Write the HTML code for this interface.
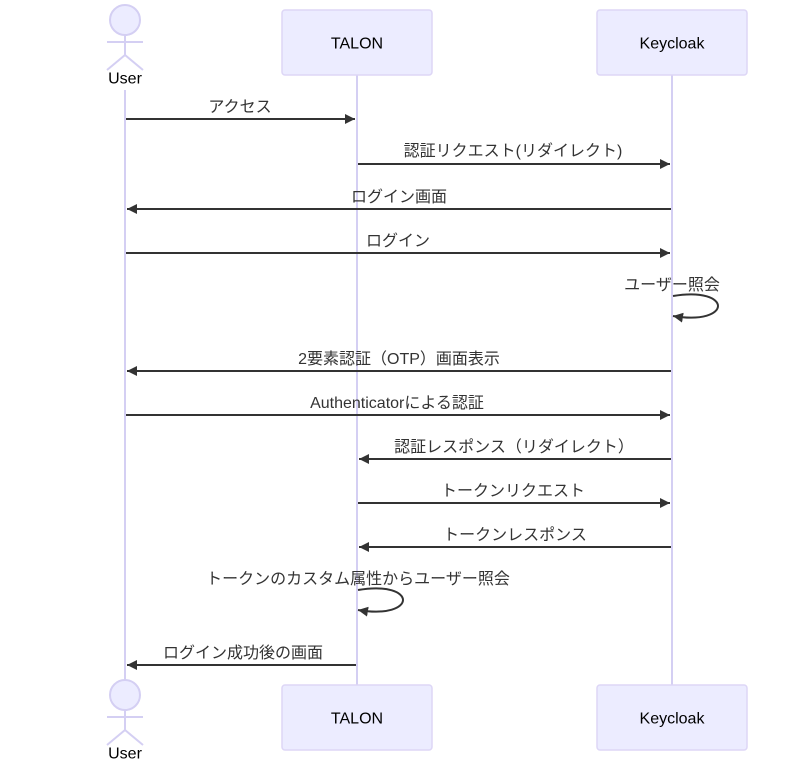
<!DOCTYPE html>
<html><head><meta charset="utf-8"><style>
html,body{margin:0;padding:0;background:#fff;}
svg{display:block;}
text{font-family:"Liberation Sans","Noto Sans CJK JP",sans-serif;}
.msg{font-size:16px;fill:#333;text-anchor:middle;}
.act{font-size:16px;fill:#000;text-anchor:middle;dominant-baseline:central;}
</style></head><body>
<svg width="798" height="761" viewBox="0 0 798 761" xmlns="http://www.w3.org/2000/svg">
<defs>
<marker id="ah" markerWidth="12" markerHeight="12" refX="10" refY="5" orient="auto" markerUnits="userSpaceOnUse">
<path d="M0,0 L10,5 L0,10 z" fill="#333"/>
</marker>
</defs>
<g stroke="#d4cff3" stroke-width="2">
<line x1="125" y1="90" x2="125" y2="680"/>
<line x1="357" y1="75" x2="357" y2="685"/>
<line x1="672" y1="75" x2="672" y2="685"/>
</g>
<g fill="#ececff" stroke="#ddd6f6" stroke-width="1.5">
<rect x="282" y="10" width="150" height="65" rx="3"/>
<rect x="597" y="10" width="150" height="65" rx="3"/>
<rect x="282" y="685" width="150" height="65" rx="3"/>
<rect x="597" y="685" width="150" height="65" rx="3"/>
</g>
<text class="act" x="357" y="44">TALON</text>
<text class="act" x="672" y="44">Keycloak</text>
<text class="act" x="357" y="719">TALON</text>
<text class="act" x="672" y="719">Keycloak</text>
<g fill="#ececff" stroke="#d4cff3" stroke-width="2">
<circle cx="125" cy="20" r="15"/>
<line x1="125" y1="35" x2="125" y2="55"/>
<line x1="107" y1="42" x2="143" y2="42"/>
<line x1="125" y1="55" x2="107" y2="70"/>
<line x1="125" y1="55" x2="143" y2="70"/>
<circle cx="125" cy="695" r="15"/>
<line x1="125" y1="710" x2="125" y2="730"/>
<line x1="107" y1="717" x2="143" y2="717"/>
<line x1="125" y1="730" x2="107" y2="745"/>
<line x1="125" y1="730" x2="143" y2="745"/>
</g>
<text class="act" x="125" y="79">User</text>
<text class="act" x="125" y="754">User</text>
<g stroke="#333" stroke-width="2" fill="none" marker-end="url(#ah)">
<line x1="126" y1="119" x2="355" y2="119"/>
<line x1="358" y1="164" x2="670" y2="164"/>
<line x1="671" y1="209" x2="127" y2="209"/>
<line x1="126" y1="253" x2="670" y2="253"/>
<path d="M673,296 C733,286 733,326 673,316"/>
<line x1="671" y1="371" x2="127" y2="371"/>
<line x1="126" y1="415" x2="670" y2="415"/>
<line x1="671" y1="459" x2="359" y2="459"/>
<line x1="358" y1="503" x2="670" y2="503"/>
<line x1="671" y1="547" x2="359" y2="547"/>
<path d="M358,590 C418,580 418,620 358,610"/>
<line x1="356" y1="665" x2="127" y2="665"/>
</g>
<text class="msg" x="240" y="112">アクセス</text>
<text class="msg" x="513" y="156">認証リクエスト(リダイレクト)</text>
<text class="msg" x="399" y="202">ログイン画面</text>
<text class="msg" x="398" y="246">ログイン</text>
<text class="msg" x="672" y="290">ユーザー照会</text>
<text class="msg" x="399" y="364">2要素認証（OTP）画面表示</text>
<text class="msg" x="397" y="408">Authenticatorによる認証</text>
<text class="msg" x="514" y="452">認証レスポンス（リダイレクト）</text>
<text class="msg" x="513" y="496">トークンリクエスト</text>
<text class="msg" x="515" y="540">トークンレスポンス</text>
<text class="msg" x="358" y="584">トークンのカスタム属性からユーザー照会</text>
<text class="msg" x="243" y="658">ログイン成功後の画面</text>
</svg>
</body></html>
